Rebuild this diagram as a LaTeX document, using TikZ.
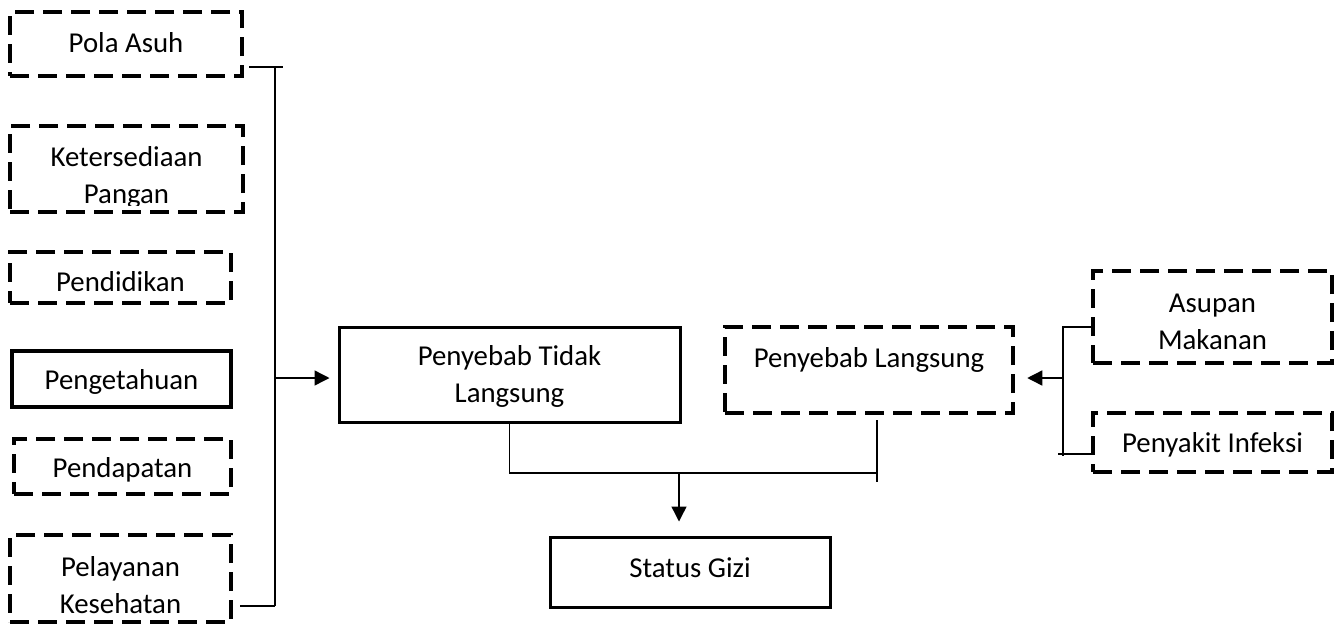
\documentclass[tikz,border=0pt]{standalone}
\usepackage{fontspec}
\setmainfont{Carlito}
\usetikzlibrary{arrows.meta}
\begin{document}
\begin{tikzpicture}[x=1pt,y=-1pt,
  dbox/.style={draw=black,line width=4.5pt,dash pattern=on 19pt off 9pt,rectangle,inner sep=0pt},
  sbox/.style={draw=black,line width=3pt,rectangle,inner sep=0pt},
  lbl/.style={align=center,inner sep=0pt,font=\fontsize{28.8}{37}\selectfont},
  conn/.style={line width=1.4pt,black},
  arr/.style={conn,-{Triangle[length=15pt,width=15pt]}}]
\useasboundingbox (0,0) rectangle (1344,625);
% left column boxes
\node[dbox,minimum width=232pt,minimum height=64pt] (pola) at (126,44) {};
\node[lbl] at (126,43) {Pola Asuh};
\node[dbox,minimum width=233pt,minimum height=86pt] (keter) at (126.5,169) {};
\begin{scope}
\clip (14,130) rectangle (239,205);
\node[lbl] at (126.5,177) {Ketersediaan\\Pangan};
\end{scope}
\node[dbox,minimum width=221pt,minimum height=51pt] (pendidikan) at (120.5,277.5) {};
\node[lbl] at (120.5,282) {Pendidikan};
\node[sbox,line width=4pt,minimum width=219pt,minimum height=56pt] (pengetahuan) at (121.5,379) {};
\node[lbl] at (121.5,382) {Pengetahuan};
\node[dbox,minimum width=217pt,minimum height=55pt] (pendapatan) at (122.5,466.5) {};
\node[lbl] at (122.5,470) {Pendapatan};
\node[dbox,minimum width=221pt,minimum height=87pt] (pelayanan) at (120.5,578.5) {};
\node[lbl] at (120.5,585) {Pelayanan\\Kesehatan};
% middle
\node[sbox,minimum width=341pt,minimum height=95pt] (ptl) at (509.5,374.5) {};
\node[lbl] at (509.5,376) {Penyebab Tidak\\Langsung};
\node[dbox,minimum width=288pt,minimum height=86pt] (pl) at (869,370) {};
\node[lbl] at (869,360) {Penyebab Langsung};
\node[sbox,minimum width=280pt,minimum height=70pt] (status) at (690,572) {};
\node[lbl] at (690,568) {Status Gizi};
% right
\node[dbox,minimum width=239pt,minimum height=92pt] (asupan) at (1212.5,317) {};
\node[lbl] at (1212.5,321.5) {Asupan\\Makanan};
\node[dbox,minimum width=239pt,minimum height=59pt] (infeksi) at (1212.5,442.5) {};
\node[lbl] at (1212.5,445) {Penyakit Infeksi};
% junction coordinates
\coordinate (jL1) at (275,67);
\coordinate (jL2) at (275,606);
\coordinate (jL) at (275,378);
\coordinate (jB) at (679,473);
\coordinate (jR) at (877,473);
\coordinate (jRt) at (1063,327);
\coordinate (jRb) at (1063,454);
\coordinate (jRm) at (1063,378);
% left bracket
\draw[conn] ([xshift=5pt]pola.east |- jL1) -- ([xshift=8pt]jL1);
\draw[conn] (jL1) -- (jL2);
\draw[conn] ([xshift=7pt]pelayanan.east |- jL2) -- (jL2);
\draw[arr,shorten >=8pt] (jL) -- (ptl.west |- jL);
% bottom join
\draw[conn] (ptl.south) |- ([xshift=1pt]jR);
\draw[conn] ([yshift=-5pt]pl.south -| jR) -- ([yshift=-9pt]jR);
\draw[arr,shorten >=14pt] (jB) -- (jB |- status.north);
% right bracket
\draw[conn] (asupan.west |- jRt) -- (jRt) -- ([yshift=-2pt]jRb);
\draw[conn] ([xshift=-5pt]jRb) -- (infeksi.west |- jRb);
\draw[arr,shorten >=12pt] (jRm) -- (pl.east |- jRm);
\end{tikzpicture}
\end{document}
